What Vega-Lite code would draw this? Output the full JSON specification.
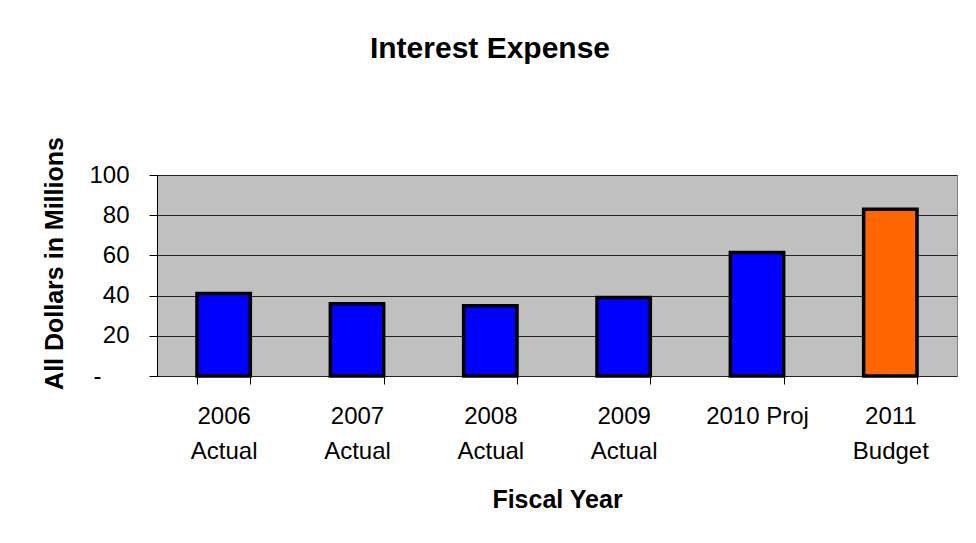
{
  "$schema": "https://vega.github.io/schema/vega-lite/v6.json",
  "width": 800,
  "height": 201,
  "autosize": {"type": "none"},
  "padding": {"left": 157, "top": 175, "right": 19, "bottom": 167},
  "background": "white",
  "title": {
    "text": "Interest Expense",
    "anchor": "middle",
    "frame": "group",
    "dx": -67,
    "baseline": "alphabetic",
    "offset": 49,
    "font": "Liberation Sans",
    "fontSize": 30,
    "fontWeight": "bold",
    "color": "black"
  },
  "data": {
    "values": [
      {"year": "2006 Actual", "value": 41, "kind": "Actual"},
      {"year": "2007 Actual", "value": 36, "kind": "Actual"},
      {"year": "2008 Actual", "value": 35, "kind": "Actual"},
      {"year": "2009 Actual", "value": 39, "kind": "Actual"},
      {"year": "2010 Proj", "value": 61.5, "kind": "Proj"},
      {"year": "2011 Budget", "value": 83, "kind": "Budget"}
    ]
  },
  "mark": {"type": "bar", "stroke": "black", "strokeWidth": 3.5},
  "encoding": {
    "x": {
      "field": "year",
      "type": "nominal",
      "sort": null,
      "scale": {"paddingInner": 0.6, "paddingOuter": 0.3},
      "axis": {
        "title": "Fiscal Year",
        "labelAngle": 0,
        "labelExpr": "datum.label === '2010 Proj' ? datum.label : split(datum.label, ' ')",
        "labelFont": "Liberation Sans",
        "labelFontSize": 24,
        "labelColor": "black",
        "labelLineHeight": 35,
        "labelPadding": 20,
        "tickBand": "extent",
        "tickSize": 16,
        "tickColor": "black",
        "offset": -8,
        "domain": false,
        "titleFont": "Liberation Sans",
        "titleFontSize": 25,
        "titleFontWeight": "bold",
        "titleColor": "black",
        "titleBaseline": "alphabetic",
        "titleY": 139
      }
    },
    "y": {
      "field": "value",
      "type": "quantitative",
      "scale": {"domain": [0, 100]},
      "axis": {
        "title": "All Dollars in Millions",
        "values": [0, 20, 40, 60, 80, 100],
        "labelExpr": "datum.value === 0 ? '-' : datum.label",
        "labelFont": "Liberation Sans",
        "labelFontSize": 24,
        "labelColor": "black",
        "labelPadding": {"condition": {"test": "datum.value === 0", "value": 48}, "value": 20},
        "tickSize": 8,
        "tickColor": "black",
        "domainColor": "black",
        "grid": true,
        "gridColor": "#222222",
        "gridWidth": 1,
        "titleFont": "Liberation Sans",
        "titleFontSize": 25,
        "titleFontWeight": "bold",
        "titleColor": "black",
        "titleBaseline": "alphabetic",
        "titleX": -95,
        "titleY": 88
      }
    },
    "fill": {
      "field": "kind",
      "type": "nominal",
      "scale": {"domain": ["Actual", "Proj", "Budget"], "range": ["#0000FF", "#0000FF", "#FF6600"]},
      "legend": null
    }
  },
  "config": {
    "view": {"fill": "#C0C0C0", "stroke": "#808080", "strokeWidth": 1}
  }
}
